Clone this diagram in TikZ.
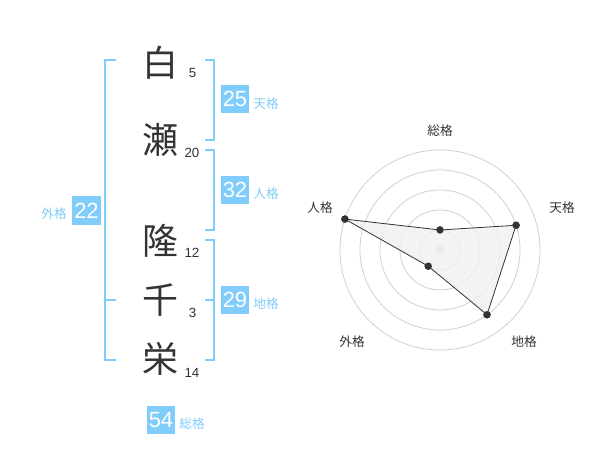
\documentclass[tikz,border=0pt]{standalone}
\usepackage{fontspec}
\setmainfont{Liberation Sans}
\newfontfamily\jpfont{Noto Sans CJK JP}
\usepackage{tikz}
\definecolor{kakublue}{RGB}{128,204,250}
\definecolor{inkgray}{RGB}{51,51,51}
\definecolor{ringgray}{RGB}{208,208,208}
\definecolor{areagray}{RGB}{240,240,240}

\begin{document}
\begin{tikzpicture}[x=0.75pt,y=-0.75pt,
    kanji/.style={text=inkgray,font=\jpfont\fontsize{27}{27}\selectfont},
    strokes/.style={text=inkgray,font=\fontsize{10}{10}\selectfont},
    kakubox/.style={fill=kakublue,text=white,minimum size=21.5pt,inner sep=0pt,font=\fontsize{16.5}{16.5}\selectfont},
    kakuname/.style={text=kakublue,font=\jpfont\fontsize{9.5}{10}\selectfont},
    axisname/.style={text=inkgray,font=\jpfont\fontsize{9.5}{10}\selectfont},
    bracket/.style={draw=kakublue,line width=1.5pt},
    vertex/.style={circle,fill=inkgray,inner sep=0pt,minimum size=5.5pt}]
    \useasboundingbox (0,0) rectangle (600,470);
    % name, one character per line
    \node[kanji] at (160,63) (shira) {白};
    \node[kanji] at (160,140) (se) {瀬};
    \node[kanji] at (160,241) (taka) {隆};
    \node[kanji] at (160,300) (chi) {千};
    \node[kanji] at (160,359) (sakae) {栄};
    \node[strokes] at (192.5,72.5) (n5) {5};
    \node[strokes] at (192,152.5) (n20) {20};
    \node[strokes] at (192,252.5) (n12) {12};
    \node[strokes] at (192.5,312.5) (n3) {3};
    \node[strokes] at (192,372.5) (n14) {14};
    % brackets
    \draw[bracket] (116,60) -- (105,60) -- (105,360) -- (116,360);
    \draw[bracket] (105,300) -- (116,300);
    \draw[bracket] (205,60) -- (214,60) -- (214,140) -- (205,140);
    \draw[bracket] (205,150) -- (214,150) -- (214,230) -- (205,230);
    \draw[bracket] (205,240) -- (214,240) -- (214,360) -- (205,360);
    \draw[bracket] (205,300) -- (214,300);
    % scores
    \node[kakubox] at (235,99) (ten) {25};
    \node[kakuname] at (266,104) (tenname) {天格};
    \node[kakubox] at (235,190) (jin) {32};
    \node[kakuname] at (266,194) (jinname) {人格};
    \node[kakubox] at (235,300) (chiscore) {29};
    \node[kakuname] at (266,304) (chiname) {地格};
    \node[kakubox] at (86.5,210.5) (gai) {22};
    \node[kakuname] at (54,214) (gainame) {外格};
    \node[kakubox] at (161,420) (sou) {54};
    \node[kakuname] at (192,424) (souname) {総格};
    % radar
    \begin{scope}[shift={(440,250)}]
        \foreach \r in {20,40,60,80,100}
            \draw[ringgray,line width=0.6pt] (0,0) circle (\r*0.75pt);
        \fill[ringgray] (0,0) circle (3pt);
        \node[vertex] at (-90:20) (vsou) {};
        \node[vertex] at (-18:80) (vten) {};
        \node[vertex] at (54:80) (vchi) {};
        \node[vertex] at (126:20) (vgai) {};
        \node[vertex] at (198:100) (vjin) {};
        \draw[inkgray,fill=areagray,fill opacity=0.8,line width=0.6pt]
            (vsou.center) -- (vten.center) -- (vchi.center) -- (vgai.center) -- (vjin.center) -- cycle;
        \foreach \v in {vsou,vten,vchi,vgai,vjin}
            \fill[inkgray] (\v) circle (2.75pt);
    \end{scope}
    \node[axisname] at (440,131) (asou) {総格};
    \node[axisname] at (562,208) (aten) {天格};
    \node[axisname] at (524,342) (achi) {地格};
    \node[axisname] at (352,342) (agai) {外格};
    \node[axisname] at (320,208) (ajin) {人格};
\end{tikzpicture}
\end{document}
